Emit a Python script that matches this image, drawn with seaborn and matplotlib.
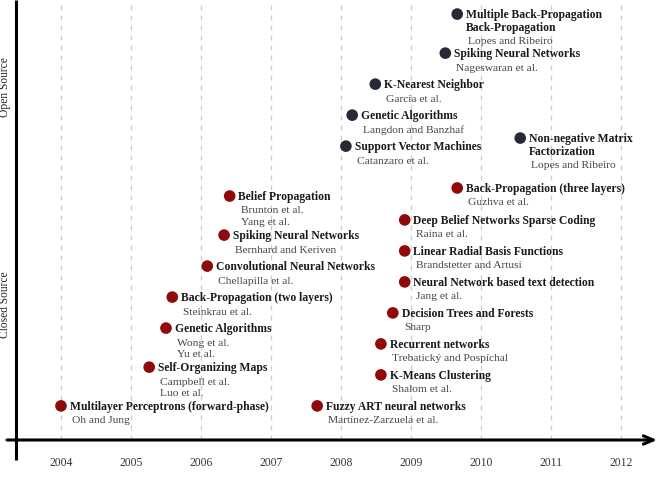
import matplotlib
matplotlib.use("Agg")
import matplotlib.pyplot as plt
import numpy as np
import pandas as pd
import seaborn as sns

#%% Data read off the timeline
methods = [
    'Multilayer Perceptrons (forward-phase)',
    'Self-Organizing Maps',
    'Genetic Algorithms',
    'Back-Propagation (two layers)',
    'Convolutional Neural Networks',
    'Spiking Neural Networks',
    'Belief Propagation',
    'Fuzzy ART neural networks',
    'K-Means Clustering',
    'Recurrent networks',
    'Decision Trees and Forests',
    'Neural Network based text detection',
    'Linear Radial Basis Functions',
    'Deep Belief Networks Sparse Coding',
    'Back-Propagation (three layers)',
    'Support Vector Machines',
    'Genetic Algorithms',
    'K-Nearest Neighbor',
    'Spiking Neural Networks',
    'Multiple Back-Propagation\nBack-Propagation',
    'Non-negative Matrix\nFactorization',
]
authors = [
    'Oh and Jung',
    'Campbell et al.\nLuo et al.',
    'Wong et al.\nYu et al.',
    'Steinkrau et al.',
    'Chellapilla et al.',
    'Bernhard and Keriven',
    'Brunton et al.\nYang et al.',
    'Martínez-Zarzuela et al.',
    'Shalom et al.',
    'Trebatický and Pospíchal',
    'Sharp',
    'Jang et al.',
    'Brandstetter and Artusi',
    'Raina et al.',
    'Guzhva et al.',
    'Catanzaro et al.',
    'Langdon and Banzhaf',
    'García et al.',
    'Nageswaran et al.',
    'Lopes and Ribeiro',
    'Lopes and Ribeiro',
]
years = [2004.0, 2005.26, 2005.5, 2005.59, 2006.09, 2006.33, 2006.41,
         2007.66, 2008.57, 2008.57, 2008.74, 2008.91, 2008.91, 2008.91, 2009.66,
         2008.07, 2008.16, 2008.49, 2009.49, 2009.66, 2010.56]
levels = [1.10, 2.35, 3.61, 4.61, 5.61, 6.61, 7.87,
          1.10, 2.10, 3.10, 4.10, 5.10, 6.10, 7.10, 8.13,
          9.48, 10.48, 11.48, 12.48, 13.74, 9.74]
licence = ['Closed Source'] * 15 + ['Open Source'] * 6
year_ticks = [2004, 2005, 2006, 2007, 2008, 2009, 2010, 2011, 2012]

df = pd.DataFrame({'method': methods, 'authors': authors, 'year': years,
                   'level': levels, 'licence': licence})

#%% Figure
sns.set_style("white")
plt.rcParams['font.family'] = ['Liberation Serif', 'DejaVu Serif']

fig = plt.figure(figsize=(6.61, 4.78), dpi=100)
ax = fig.add_axes([0, 0, 1, 1])
ax.set_xlim(2003.129, 2012.571)
ax.set_ylim(-1.226, 14.194)
ax.axis('off')

# dashed year guides
ax.vlines(year_ticks, 0, 14.194, colors='#cccccc', linestyles=(0, (4, 4)), linewidth=0.9, zorder=0)

# axes drawn by hand
ax.annotate('', xy=(2012.514, 0), xytext=(2003.229, 0),
            arrowprops=dict(arrowstyle='->,head_length=0.7,head_width=0.3', lw=2.2, color='black',
                            shrinkA=0, shrinkB=0))
ax.plot([2003.357, 2003.357], [-0.645, 14.194], color='black', lw=2.2, solid_capstyle='butt')

for y in year_ticks:
    ax.text(y, -0.74, str(y), ha='center', va='center', fontsize=8.4, color='#333333')

ax.text(2003.2, 11.39, 'Open Source', rotation=90, ha='center', va='center', fontsize=8.3, color='#222222')
ax.text(2003.2, 4.35, 'Closed Source', rotation=90, ha='center', va='center', fontsize=8.3, color='#222222')

# points
sns.scatterplot(data=df, x='year', y='level', hue='licence',
                palette={'Closed Source': '#8f0a0a', 'Open Source': '#262a37'},
                s=70, edgecolor='none', legend=False, ax=ax, zorder=3)

# labels
for _, row in df.iterrows():
    n_title = row['method'].count('\n') + 1
    ax.annotate(row['method'], (row['year'], row['level']), xytext=(6.3, 3.4),
                textcoords='offset points', ha='left', va='top', fontsize=8.4,
                fontweight='bold', color='#1a1a1a', linespacing=1.1)
    ax.annotate(row['authors'], (row['year'], row['level']),
                xytext=(8.0, -7.5 - (n_title - 1) * 8.7),
                textcoords='offset points', ha='left', va='top', fontsize=8.25,
                color='#444444', linespacing=1.32)

fig.savefig('out.png', dpi=100)
